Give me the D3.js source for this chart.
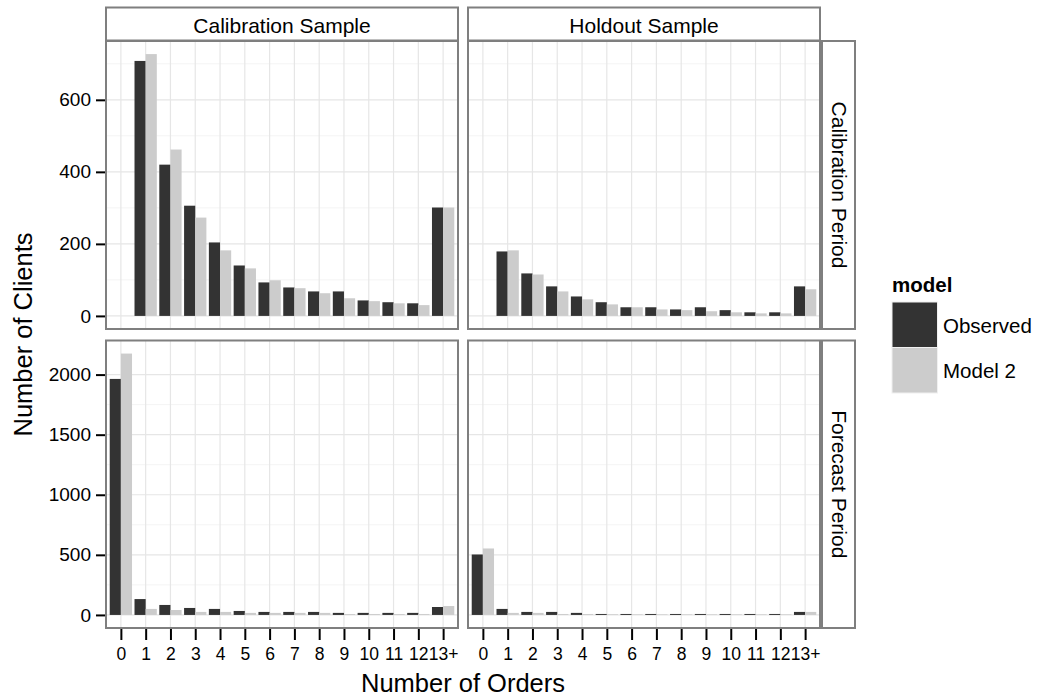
<!DOCTYPE html>
<html>
<head>
<meta charset="utf-8">
<script src="https://cdn.jsdelivr.net/npm/d3@7"></script>
<style>
  body { margin: 0; background: #fff; }
  text { font-family: "Liberation Sans", Arial, Helvetica, sans-serif; }
</style>
</head>
<body>
<script>
// Categories on the x axis
var categories = ["0", "1", "2", "3", "4", "5", "6", "7", "8", "9", "10", "11", "12", "13+"];

// Calibration Sample / Calibration Period
var calSampleCalPeriodObserved = [0, 708, 420, 306, 204, 140, 93, 79, 68, 68, 43, 38, 35, 301];
var calSampleCalPeriodModel = [0, 727, 462, 273, 182, 132, 99, 77, 63, 49, 41, 35, 30, 301];
// Holdout Sample / Calibration Period
var holdSampleCalPeriodObserved = [0, 179, 118, 82, 54, 38, 24, 24, 18, 24, 16, 10, 10, 82];
var holdSampleCalPeriodModel = [0, 182, 115, 68, 46, 32, 24, 18, 16, 13, 10, 7, 7, 74];
// Calibration Sample / Forecast Period
var calSampleFcPeriodObserved = [1964, 132, 83, 58, 50, 33, 25, 25, 25, 17, 17, 17, 17, 66];
var calSampleFcPeriodModel = [2175, 50, 41, 25, 25, 17, 17, 17, 17, 8, 8, 8, 8, 74];
// Holdout Sample / Forecast Period
var holdSampleFcPeriodObserved = [503, 50, 25, 25, 17, 8, 8, 8, 8, 8, 8, 8, 8, 25];
var holdSampleFcPeriodModel = [553, 17, 17, 8, 8, 6, 5, 5, 5, 5, 5, 5, 5, 25];

var seriesNames = ["Observed", "Model 2"];
var columnLabels = ["Calibration Sample", "Holdout Sample"];
var rowLabels = ["Calibration Period", "Forecast Period"];
var topTicks = [0, 200, 400, 600];
var topMinor = [100, 300, 500, 700];
var bottomTicks = [0, 500, 1000, 1500, 2000];
var bottomMinor = [250, 750, 1250, 1750];

var colors = { "Observed": "#333333", "Model 2": "#cccccc" };
var gridMajor = "#e6e6e6", gridMinor = "#f4f4f4", border = "#7f7f7f";

var width = 1037, height = 698;
var cols = [{ x0: 106, x1: 458 }, { x0: 468, x1: 820 }];
var rows = [{ y0: 41, y1: 329 }, { y0: 340.5, y1: 628 }];
var yTickFont = "19px", xTickFont = "17.5px", stripFont = "21px", titleFont = "25.5px", legendFont = "20.5px";

var svg = d3.select("body").append("svg")
  .attr("width", width)
  .attr("height", height);

// rows share a y scale, each with the ggplot 5% expansion
var makeY = function (maxVal, row) {
  return d3.scaleLinear()
    .domain([-0.05 * maxVal, 1.05 * maxVal])
    .range([row.y1, row.y0]);
};

var panels = [
  { r: 0, c: 0, obs: calSampleCalPeriodObserved, mod: calSampleCalPeriodModel },
  { r: 0, c: 1, obs: holdSampleCalPeriodObserved, mod: holdSampleCalPeriodModel },
  { r: 1, c: 0, obs: calSampleFcPeriodObserved, mod: calSampleFcPeriodModel },
  { r: 1, c: 1, obs: holdSampleFcPeriodObserved, mod: holdSampleFcPeriodModel }
];

var rowMax = [0, 0];
panels.forEach(function (p) {
  rowMax[p.r] = Math.max(rowMax[p.r], d3.max(p.obs), d3.max(p.mod));
});
var yScales = [makeY(rowMax[0], rows[0]), makeY(rowMax[1], rows[1])];
var ticks = [topTicks, bottomTicks];
var minors = [topMinor, bottomMinor];

var xScales = cols.map(function (c) {
  return d3.scalePoint().domain(categories).range([c.x0, c.x1]).padding(0.6);
});

var drawPanel = function (p) {
  var x = xScales[p.c], y = yScales[p.r];
  var col = cols[p.c], row = rows[p.r];
  var g = svg.append("g");
  var barW = x.step() * 0.45;

  g.append("rect")
    .attr("x", col.x0).attr("y", row.y0)
    .attr("width", col.x1 - col.x0).attr("height", row.y1 - row.y0)
    .attr("fill", "#fff");

  g.selectAll(".minor").data(minors[p.r]).enter().append("line")
    .attr("x1", col.x0).attr("x2", col.x1)
    .attr("y1", function (d) { return y(d); })
    .attr("y2", function (d) { return y(d); })
    .attr("stroke", gridMinor).attr("stroke-width", 1);

  g.selectAll(".hmajor").data(ticks[p.r]).enter().append("line")
    .attr("x1", col.x0).attr("x2", col.x1)
    .attr("y1", function (d) { return y(d); })
    .attr("y2", function (d) { return y(d); })
    .attr("stroke", gridMajor).attr("stroke-width", 1.2);

  g.selectAll(".vmajor").data(categories).enter().append("line")
    .attr("y1", row.y0).attr("y2", row.y1)
    .attr("x1", function (d) { return x(d); })
    .attr("x2", function (d) { return x(d); })
    .attr("stroke", gridMajor).attr("stroke-width", 1.2);

  var bars = [];
  categories.forEach(function (cat, i) {
    bars.push({ cat: cat, v: p.obs[i], s: "Observed", off: -barW });
    bars.push({ cat: cat, v: p.mod[i], s: "Model 2", off: 0 });
  });

  g.selectAll(".bar").data(bars).enter().append("rect")
    .attr("x", function (d) { return x(d.cat) + d.off; })
    .attr("width", barW)
    .attr("y", function (d) { return y(d.v); })
    .attr("height", function (d) { return y(0) - y(d.v); })
    .attr("fill", function (d) { return colors[d.s]; });

  g.append("rect")
    .attr("x", col.x0).attr("y", row.y0)
    .attr("width", col.x1 - col.x0).attr("height", row.y1 - row.y0)
    .attr("fill", "none").attr("stroke", border).attr("stroke-width", 2);
};

panels.forEach(drawPanel);

var styleAxis = function (ag, size) {
  ag.attr("font-size", null).attr("font-family", null);
  ag.select(".domain").remove();
  ag.selectAll("line").attr("stroke", "#000").attr("stroke-width", 2);
  ag.selectAll("text").attr("fill", "#000").style("font-size", size);
};

// y axes on the left column
rows.forEach(function (row, r) {
  var axis = d3.axisLeft(yScales[r]).tickValues(ticks[r]).tickFormat(d3.format("d"))
    .tickSize(9).tickPadding(5);
  var ag = svg.append("g").attr("transform", "translate(" + (cols[0].x0 - 1) + ",0)").call(axis);
  styleAxis(ag, yTickFont);
});

// x axes under the bottom row
cols.forEach(function (col, c) {
  var axis = d3.axisBottom(xScales[c]).tickSize(11).tickPadding(8);
  var ag = svg.append("g").attr("transform", "translate(0," + (rows[1].y1 + 1) + ")").call(axis);
  styleAxis(ag, xTickFont);
});

// column strips
cols.forEach(function (col, c) {
  svg.append("rect")
    .attr("x", col.x0).attr("y", 7.5)
    .attr("width", col.x1 - col.x0).attr("height", 33)
    .attr("fill", "#fff").attr("stroke", border).attr("stroke-width", 2);
  svg.append("text")
    .attr("x", (col.x0 + col.x1) / 2).attr("y", 25)
    .attr("text-anchor", "middle").attr("dominant-baseline", "central")
    .style("font-size", stripFont)
    .text(columnLabels[c]);
});

// row strips
rows.forEach(function (row, r) {
  var sx = 822, sw = 33;
  svg.append("rect")
    .attr("x", sx).attr("y", row.y0)
    .attr("width", sw).attr("height", row.y1 - row.y0)
    .attr("fill", "#fff").attr("stroke", border).attr("stroke-width", 2);
  var cx = sx + sw / 2 + 1, cy = (row.y0 + row.y1) / 2;
  svg.append("text")
    .attr("transform", "translate(" + cx + "," + cy + ") rotate(90)")
    .attr("text-anchor", "middle").attr("dominant-baseline", "central")
    .style("font-size", stripFont)
    .text(rowLabels[r]);
});

// axis titles
svg.append("text")
  .attr("x", (cols[0].x0 + cols[1].x1) / 2).attr("y", 692)
  .attr("text-anchor", "middle")
  .style("font-size", titleFont)
  .text("Number of Orders");

svg.append("text")
  .attr("transform", "translate(32," + (rows[0].y0 + rows[1].y1) / 2 + ") rotate(-90)")
  .attr("text-anchor", "middle")
  .style("font-size", titleFont)
  .text("Number of Clients");

// legend
var legend = svg.append("g").attr("transform", "translate(892,0)");
legend.append("text")
  .attr("x", 0).attr("y", 292)
  .style("font-size", legendFont).style("font-weight", "bold")
  .text("model");
seriesNames.forEach(function (s, i) {
  legend.append("rect")
    .attr("x", 0).attr("y", 302 + i * 45.5)
    .attr("width", 45.5).attr("height", 45.5)
    .attr("fill", colors[s]).attr("stroke", "#f0f0f0").attr("stroke-width", 1);
  legend.append("text")
    .attr("x", 51).attr("y", 302 + i * 45.5 + 23)
    .attr("dominant-baseline", "central")
    .style("font-size", legendFont)
    .text(s);
});
</script>
</body>
</html>
